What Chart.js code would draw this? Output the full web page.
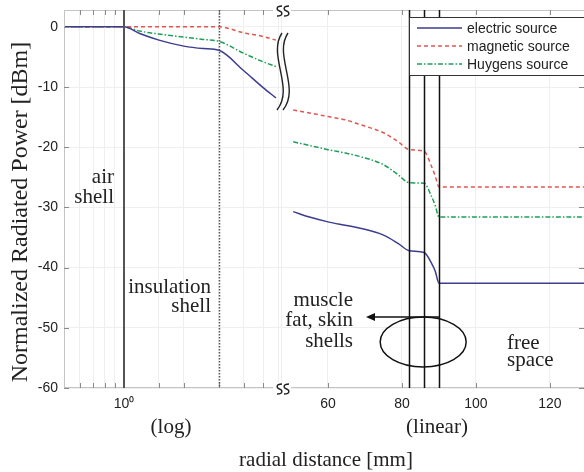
<!DOCTYPE html>
<html>
<head>
<meta charset="utf-8">
<script src="https://cdn.jsdelivr.net/npm/chart.js@4.4.1/dist/chart.umd.min.js"></script>
<style>
  html, body { margin: 0; padding: 0; background: #fff; }
  #wrap { width: 584px; height: 472px; }
</style>
</head>
<body>
<div id="wrap"><canvas id="c" width="584" height="472"></canvas></div>
<script>
// inner part of the model, log axis (radius in mm)
const logR    = [0.5, 1, 1.2, 1.5, 2, 2.5, 3, 4, 5, 5.8];
const elecLog = [0, 0, -1.1, -2.2, -3.2, -3.6, -3.9, -7.3, -10.1, -11.8];
const magLog  = [0, 0, 0, 0, 0, 0, 0, -1.0, -1.6, -2.2];
const huyLog  = [0, 0, -0.7, -1.2, -1.7, -2.1, -2.4, -4.4, -5.8, -6.6];

// outer part, linear axis
const linR    = [50.6, 55, 60, 65, 69, 75, 79, 82, 86, 88, 89, 90, 130];
const elecLin = [-30.7, -31.6, -32.4, -33.0, -33.5, -34.6, -36.0, -37.2, -37.5, -39.3, -40.6, -42.6, -42.6];
const magLin  = [-13.8, -14.3, -14.9, -15.5, -16.3, -17.6, -19.1, -20.4, -20.7, -23.2, -24.8, -26.6, -26.6];
const huyLin  = [-19.1, -19.7, -20.4, -21.0, -21.6, -22.9, -24.6, -25.9, -26.0, -28.2, -29.7, -31.6, -31.6];

const yTicks = [0, -10, -20, -30, -40, -50, -60];
const linTicks = [60, 80, 100, 120];
const logBounds = [1, 3];          // air shell, insulation shell
const shellBounds = [82, 86, 90];  // muscle / fat / skin

const series = [
  { label: 'electric source', log: elecLog, lin: elecLin, color: '#3d3d8f', dash: [] },
  { label: 'magnetic source', log: magLog, lin: magLin, color: '#e0574f', dash: [4, 3] },
  { label: 'Huygens source', log: huyLog, lin: huyLin, color: '#1f9e5a', dash: [5, 2, 1.5, 2] }
];

function pts(xs, ys) {
  return xs.map((x, i) => ({ x: x, y: ys[i] }));
}

const datasets = [];
series.forEach(s => {
  datasets.push({ label: s.label, xAxisID: 'xlog', data: pts(logR, s.log),
    borderColor: s.color, borderDash: s.dash, borderWidth: 1.5, pointRadius: 0,
    cubicInterpolationMode: 'monotone' });
  datasets.push({ label: s.label, xAxisID: 'xlin', data: pts(linR, s.lin),
    borderColor: s.color, borderDash: s.dash, borderWidth: 1.5, pointRadius: 0,
    cubicInterpolationMode: 'monotone' });
});

const tickFont = { family: '"Liberation Sans", Arial, sans-serif', size: 14 };
const serif = '"Liberation Serif", "Times New Roman", serif';

function noPad(s) {
  s.paddingLeft = 0; s.paddingRight = 0; s.paddingTop = 0; s.paddingBottom = 0;
}

// frame, boundaries, axis break, legend and the labels
const decor = {
  id: 'decor',
  afterDatasetsDraw(chart) {
    const { ctx, chartArea: a, scales } = chart;
    const xl = scales.xlog, xr = scales.xlin, y = scales.y;
    const brk = xl.right;
    ctx.save();

    // frame
    ctx.strokeStyle = '#c4c4c4';
    ctx.lineWidth = 1;
    ctx.strokeRect(a.left + 0.5, a.top + 0.5, a.width, a.height - 1);

    // inner tick marks
    ctx.strokeStyle = '#8a8a8a';
    ctx.beginPath();
    y.ticks.forEach(t => {
      const py = Math.round(y.getPixelForValue(t.value)) + 0.5;
      ctx.moveTo(a.left, py); ctx.lineTo(a.left + 5, py);
      ctx.moveTo(a.right, py); ctx.lineTo(a.right - 5, py);
    });
    [xl, xr].forEach(s => s.ticks.forEach(t => {
      const px = Math.round(s.getPixelForValue(t.value)) + 0.5;
      if (px < s.left + 1 || px > s.right - 1) return;
      ctx.moveTo(px, a.top); ctx.lineTo(px, a.top + 5);
      ctx.moveTo(px, a.bottom); ctx.lineTo(px, a.bottom - 5);
    }));
    ctx.stroke();

    // shell boundaries
    ctx.lineWidth = 2;
    ctx.strokeStyle = '#555';
    let px = Math.round(xl.getPixelForValue(logBounds[0]));
    ctx.beginPath(); ctx.moveTo(px, a.top); ctx.lineTo(px, a.bottom); ctx.stroke();
    ctx.lineWidth = 1.5;
    ctx.setLineDash([1.5, 1.5]);
    px = Math.round(xl.getPixelForValue(logBounds[1])) + 0.5;
    ctx.beginPath(); ctx.moveTo(px, a.top); ctx.lineTo(px, a.bottom); ctx.stroke();
    ctx.setLineDash([]);
    ctx.strokeStyle = '#111';
    shellBounds.forEach(v => {
      const p = Math.round(xr.getPixelForValue(v)) + 0.5;
      ctx.beginPath(); ctx.moveTo(p, a.top); ctx.lineTo(p, a.bottom); ctx.stroke();
    });

    // axis break
    ctx.fillStyle = '#fff';
    ctx.fillRect(brk - 8, a.top - 6, 18, 12);
    ctx.fillRect(brk - 8, a.bottom - 6, 18, 12);
    ctx.strokeStyle = '#222';
    ctx.lineWidth = 1.4;
    const ss = (cx, cy) => {
      [-3.5, 3.5].forEach(dx => {
        const x = cx + dx;
        ctx.beginPath();
        ctx.moveTo(x + 2.5, cy - 5);
        ctx.bezierCurveTo(x - 4, cy - 5, x - 3, cy - 1, x, cy);
        ctx.bezierCurveTo(x + 3, cy + 1, x + 4, cy + 5, x - 2.5, cy + 5);
        ctx.stroke();
      });
    };
    ss(brk + 2, a.top + 1);
    ss(brk + 2, a.bottom + 1);
    [0, 6].forEach(dx => {
      ctx.beginPath();
      ctx.moveTo(brk + 1 + dx, 33);
      ctx.bezierCurveTo(brk - 14 + dx, 55, brk + 14 + dx, 88, brk - 4 + dx, 110);
      ctx.stroke();
    });

    // legend
    ctx.fillStyle = '#fff';
    ctx.strokeStyle = '#333';
    ctx.lineWidth = 1;
    ctx.fillRect(409.5, 17.5, 180, 58);
    ctx.strokeRect(409.5, 17.5, 180, 58);
    ctx.font = '14px "Liberation Sans", Arial, sans-serif';
    ctx.textBaseline = 'middle';
    ctx.textAlign = 'left';
    series.forEach((s, i) => {
      const ly = 28 + i * 18;
      ctx.strokeStyle = s.color;
      ctx.lineWidth = 1.5;
      ctx.setLineDash(s.dash);
      ctx.beginPath(); ctx.moveTo(417, ly); ctx.lineTo(462, ly); ctx.stroke();
      ctx.setLineDash([]);
      ctx.fillStyle = '#222';
      ctx.fillText(s.label, 467, ly + 1);
    });

    // region labels
    ctx.fillStyle = '#222';
    ctx.textBaseline = 'alphabetic';
    ctx.font = '21px ' + serif;
    ctx.textAlign = 'right';
    ctx.fillText('air', 114, 183);
    ctx.fillText('shell', 114, 203);
    ctx.fillText('insulation', 211, 293);
    ctx.fillText('shell', 211, 312);
    ctx.fillText('muscle', 353, 306);
    ctx.fillText('fat, skin', 353, 326);
    ctx.fillText('shells', 353, 347);
    ctx.textAlign = 'left';
    ctx.fillText('free', 507, 349);
    ctx.fillText('space', 507, 366);

    // ellipse and arrow
    ctx.strokeStyle = '#111';
    ctx.lineWidth = 1.5;
    ctx.beginPath();
    ctx.ellipse(xr.getPixelForValue(shellBounds[1]) - 1, 342, 43, 25, 0, 0, Math.PI * 2);
    ctx.stroke();
    ctx.beginPath(); ctx.moveTo(440, 317); ctx.lineTo(372, 317); ctx.stroke();
    ctx.fillStyle = '#111';
    ctx.beginPath(); ctx.moveTo(366, 317); ctx.lineTo(375, 313); ctx.lineTo(375, 321); ctx.closePath(); ctx.fill();

    // axis titles
    ctx.fillStyle = '#222';
    ctx.textAlign = 'center';
    ctx.font = '21px ' + serif;
    ctx.fillText('(log)', 171, 433);
    ctx.fillText('(linear)', 437, 433);
    ctx.fillText('radial distance [mm]', 326, 466);
    ctx.save();
    ctx.translate(27, 212);
    ctx.rotate(-Math.PI / 2);
    ctx.font = '24px ' + serif;
    ctx.fillText('Normalized Radiated Power [dBm]', 0, 0);
    ctx.restore();

    ctx.restore();
  }
};

new Chart(document.getElementById('c'), {
  type: 'line',
  data: { datasets: datasets },
  options: {
    responsive: false,
    animation: false,
    layout: { padding: { top: 10, left: 0, right: 0, bottom: 0 } },
    plugins: { legend: { display: false }, tooltip: { enabled: false } },
    scales: {
      xlog: {
        type: 'logarithmic', position: 'bottom', stack: 'x', stackWeight: 217,
        min: 0.5, max: 6.15,
        grid: { color: '#efefef', drawTicks: false },
        border: { display: false },
        ticks: { autoSkip: false, maxRotation: 0, padding: 8, font: tickFont, color: '#222',
          callback: v => (Math.abs(v - 1) < 1e-9 ? '10\u2070' : '') },
        afterFit: s => { s.height = 84; noPad(s); }
      },
      xlin: {
        type: 'linear', position: 'bottom', stack: 'x', stackWeight: 303,
        min: 47.3, max: 129.2,
        grid: { color: '#efefef', drawTicks: false },
        border: { display: false },
        ticks: { autoSkip: false, maxRotation: 0, padding: 8, font: tickFont, color: '#222' },
        afterBuildTicks: s => { s.ticks = linTicks.map(v => ({ value: v })); },
        afterFit: s => { s.height = 84; noPad(s); }
      },
      y: {
        min: -60, max: 2.8,
        grid: { color: '#efefef', drawTicks: false },
        border: { display: false },
        ticks: { padding: 6, font: tickFont, color: '#222' },
        afterBuildTicks: s => { s.ticks = yTicks.map(v => ({ value: v })); },
        afterFit: s => { s.width = 64; noPad(s); }
      }
    }
  },
  plugins: [decor]
});
</script>
</body>
</html>
